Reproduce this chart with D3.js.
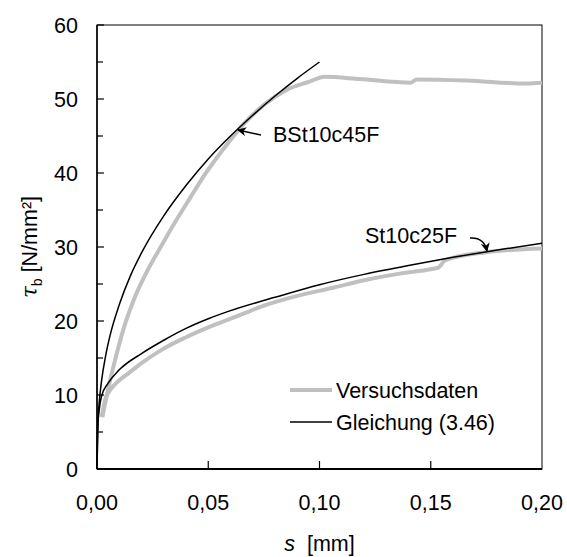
<!DOCTYPE html>
<html>
<head>
<meta charset="utf-8">
<script src="https://cdn.jsdelivr.net/npm/d3@7/dist/d3.min.js"></script>
<style>
  body { margin: 0; background: #fff; }
  text { font-family: "Liberation Sans", Arial, sans-serif; }
</style>
</head>
<body>
<div id="chart"></div>
<script>
// values: s [mm] and tau_b [N/mm²]
const bstTestS   = [0.0024, 0.005, 0.0081, 0.012, 0.017, 0.023, 0.029, 0.035, 0.042, 0.0485, 0.057, 0.065, 0.075, 0.085, 0.095, 0.1025, 0.118, 0.141, 0.1437, 0.166, 0.193, 0.2];
const bstTestTau = [7.0, 10.8, 14.7, 19.0, 23.2, 27.0, 30.2, 33.3, 36.7, 39.8, 43.3, 46.3, 49.2, 51.2, 52.3, 53.0, 52.7, 52.2, 52.65, 52.5, 52.1, 52.2];

const stTestS   = [0.0021, 0.0036, 0.006, 0.010, 0.014, 0.02, 0.029, 0.04, 0.053, 0.065, 0.0763, 0.09, 0.1062, 0.12, 0.136, 0.15, 0.1534, 0.1564, 0.175, 0.2];
const stTestTau = [7.0, 9.3, 10.7, 12.0, 12.9, 14.3, 16.1, 17.8, 19.5, 20.9, 22.2, 23.4, 24.5, 25.5, 26.4, 27.0, 27.2, 28.2, 29.3, 29.8];

const bstEqS   = [0, 0.0005, 0.001, 0.002, 0.004, 0.006, 0.01, 0.015, 0.02, 0.03, 0.04, 0.05, 0.06, 0.07, 0.08, 0.09, 0.1];
const bstEqTau = [0, 6.8, 9.0, 11.8, 15.5, 18.2, 22.2, 26.1, 29.2, 34.2, 38.3, 41.9, 45.0, 47.8, 50.4, 52.8, 55.0];

const stEqS   = [0, 0.0003, 0.001, 0.002, 0.005, 0.01, 0.02, 0.03, 0.04, 0.05, 0.06, 0.08, 0.1, 0.12, 0.14, 0.16, 0.18, 0.2];
const stEqTau = [0, 5.5, 8.0, 9.8, 11.6, 13.4, 15.6, 17.4, 19.0, 20.3, 21.4, 23.2, 24.9, 26.3, 27.5, 28.6, 29.6, 30.5];

const xTicks = [0, 0.05, 0.1, 0.15, 0.2];
const yTicks = [0, 10, 20, 30, 40, 50, 60];
const yMinor = [5, 15, 25, 35, 45, 55];

const svg = d3.select("#chart")
    .append("svg")
    .attr("width", 567)
    .attr("height", 557);

const margin = { top: 25, right: 25, bottom: 88, left: 97 };
const width = 567 - margin.left - margin.right;
const height = 557 - margin.top - margin.bottom;

const x = d3.scaleLinear().domain([0, 0.2]).range([margin.left, margin.left + width]);
const y = d3.scaleLinear().domain([0, 60]).range([margin.top + height, margin.top]);

const fmt = d => d3.format(".2f")(d).replace(".", ",");

// arrow head
svg.append("defs").append("marker")
    .attr("id", "arrow")
    .attr("viewBox", "0 0 10 10")
    .attr("refX", 9)
    .attr("refY", 5)
    .attr("markerWidth", 9)
    .attr("markerHeight", 9)
    .attr("markerUnits", "userSpaceOnUse")
    .attr("orient", "auto")
    .append("path")
    .attr("d", "M0,0 L10,5 L0,10 L3,5 Z")
    .attr("fill", "black");

// frame
svg.append("rect")
    .attr("x", x(0))
    .attr("y", y(60))
    .attr("width", x(0.2) - x(0))
    .attr("height", y(0) - y(60))
    .attr("fill", "none")
    .attr("stroke", "black")
    .attr("stroke-width", 1);

// y ticks (inside)
svg.append("g")
    .selectAll("line")
    .data(yTicks.concat(yMinor))
    .join("line")
    .attr("x1", x(0))
    .attr("x2", d => x(0) + (yTicks.includes(d) ? 7 : 6))
    .attr("y1", d => y(d))
    .attr("y2", d => y(d))
    .attr("stroke", "black")
    .attr("stroke-width", 1.2);

svg.append("g")
    .selectAll("text")
    .data(yTicks)
    .join("text")
    .attr("x", x(0) - 19)
    .attr("y", d => y(d))
    .attr("dy", "0.36em")
    .attr("text-anchor", "end")
    .attr("font-size", 21.5)
    .text(d => d);

// x ticks (inside)
svg.append("g")
    .selectAll("line")
    .data(xTicks.slice(1, -1))
    .join("line")
    .attr("x1", d => x(d))
    .attr("x2", d => x(d))
    .attr("y1", y(0))
    .attr("y2", y(0) - 8)
    .attr("stroke", "black")
    .attr("stroke-width", 1.2);

svg.append("g")
    .selectAll("text")
    .data(xTicks)
    .join("text")
    .attr("x", d => x(d))
    .attr("y", 510)
    .attr("text-anchor", "middle")
    .attr("font-size", 21.5)
    .text(d => fmt(d));

// axis lines a bit heavier
svg.append("line")
    .attr("x1", x(0)).attr("x2", x(0.2))
    .attr("y1", y(0)).attr("y2", y(0))
    .attr("stroke", "black").attr("stroke-width", 2);
svg.append("line")
    .attr("x1", x(0)).attr("x2", x(0))
    .attr("y1", y(0)).attr("y2", y(60))
    .attr("stroke", "black").attr("stroke-width", 1.5);

// axis titles
svg.append("text")
    .attr("x", x(0.1))
    .attr("y", 551)
    .attr("text-anchor", "middle")
    .attr("font-size", 21.5)
    .call(t => {
        t.append("tspan").attr("font-style", "italic").text("s");
        t.append("tspan").text("\u00a0 [mm]");
    });

svg.append("text")
    .attr("transform", `translate(37,${y(30)}) rotate(-90)`)
    .attr("text-anchor", "middle")
    .attr("font-size", 21.5)
    .call(t => {
        t.append("tspan").attr("font-style", "italic").attr("font-family", "DejaVu Serif").text("τ");
        t.append("tspan").attr("font-size", 14).attr("dy", 5).text("b");
        t.append("tspan").attr("dy", -5).text(" [N/mm²]");
    });

// curves
const zip = (s, t) => s.map((v, i) => ({ s: v, tau: t[i] }));

const lineSmooth = d3.line()
    .x(d => x(d.s))
    .y(d => y(d.tau))
    .curve(d3.curveMonotoneX);

const gCurves = svg.append("g");

[[bstTestS, bstTestTau], [stTestS, stTestTau]].forEach(([s, t]) => {
    gCurves.append("path")
        .datum(zip(s, t))
        .attr("fill", "none")
        .attr("stroke", "#c0c0c0")
        .attr("stroke-width", 4)
        .attr("stroke-linejoin", "round")
        .attr("d", lineSmooth);
});

[[bstEqS, bstEqTau], [stEqS, stEqTau]].forEach(([s, t]) => {
    gCurves.append("path")
        .datum(zip(s, t))
        .attr("fill", "none")
        .attr("stroke", "black")
        .attr("stroke-width", 1.5)
        .attr("d", lineSmooth);
});

// annotations
svg.append("text")
    .attr("x", 273)
    .attr("y", 142)
    .attr("font-size", 21.5)
    .text("BSt10c45F");
svg.append("line")
    .attr("x1", 261).attr("y1", 135)
    .attr("x2", 238).attr("y2", 130)
    .attr("stroke", "black")
    .attr("stroke-width", 1.5)
    .attr("marker-end", "url(#arrow)");

svg.append("text")
    .attr("x", 365)
    .attr("y", 243)
    .attr("font-size", 21.5)
    .text("St10c25F");
svg.append("path")
    .attr("d", "M470,238 Q484,237 487,251")
    .attr("fill", "none")
    .attr("stroke", "black")
    .attr("stroke-width", 1.5)
    .attr("marker-end", "url(#arrow)");

// legend
const legendItems = [
    { label: "Versuchsdaten", color: "#c0c0c0", w: 4, yPos: 390 },
    { label: "Gleichung (3.46)", color: "black", w: 1.5, yPos: 422 }
];
const gLegend = svg.append("g")
    .selectAll("g")
    .data(legendItems)
    .join("g");
gLegend.append("line")
    .attr("x1", 290).attr("x2", 332)
    .attr("y1", d => d.yPos).attr("y2", d => d.yPos)
    .attr("stroke", d => d.color)
    .attr("stroke-width", d => d.w);
gLegend.append("text")
    .attr("x", 336)
    .attr("y", d => d.yPos)
    .attr("dy", "0.36em")
    .attr("font-size", 21.5)
    .text(d => d.label);
</script>
</body>
</html>
